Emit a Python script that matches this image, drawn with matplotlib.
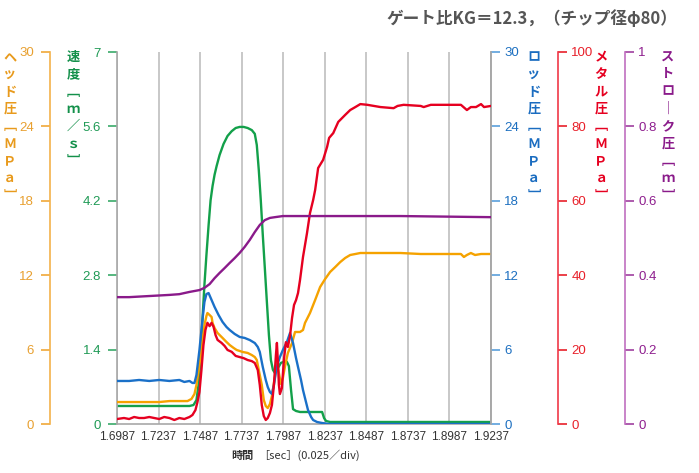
import matplotlib
matplotlib.use('Agg')
import matplotlib.pyplot as plt

# ---- data ----
x_labels = ['1.6987', '1.7237', '1.7487', '1.7737', '1.7987',
            '1.8237', '1.8487', '1.8737', '1.8987', '1.9237']

# rod pressure [MPa]
t_rod = [1.6987, 1.7060, 1.7120, 1.7181, 1.7241, 1.7302, 1.7362, 1.7392, 1.7423, 1.7441,
         1.7453, 1.7465, 1.7483, 1.7501, 1.7513, 1.7525, 1.7538, 1.7556, 1.7574, 1.7598,
         1.7622, 1.7646, 1.7665, 1.7695, 1.7725, 1.7755, 1.7786, 1.7816, 1.7834, 1.7846,
         1.7864, 1.7882, 1.7894, 1.7907, 1.7919, 1.7931, 1.7943, 1.7955, 1.7967, 1.7985,
         1.8009, 1.8028, 1.8046, 1.8064, 1.8076, 1.8094, 1.8106, 1.8124, 1.8136, 1.8155,
         1.8167, 1.8191, 1.8221, 1.8260, 1.9237]
rod = [3.47, 3.47, 3.55, 3.47, 3.55, 3.47, 3.55, 3.39, 3.47, 3.31,
       3.31, 3.95, 5.97, 8.39, 9.84, 10.48, 10.56, 10.0, 9.44, 8.79,
       8.23, 7.82, 7.58, 7.26, 7.02, 6.94, 6.77, 6.53, 6.21, 5.81,
       4.60, 3.55, 2.98, 2.58, 2.42, 3.15, 4.19, 4.92, 5.40, 5.97,
       6.61, 7.34, 6.53, 5.32, 4.60, 3.55, 2.74, 1.77, 1.13, 0.56,
       0.32, 0.16, 0.08, 0.0, 0.0]

# head pressure [MPa]
t_head = [1.6987, 1.7120, 1.7241, 1.7302, 1.7362, 1.7411, 1.7435, 1.7453, 1.7465, 1.7483,
          1.7501, 1.7513, 1.7525, 1.7531, 1.7544, 1.7556, 1.7562, 1.7574, 1.7592, 1.7622,
          1.7646, 1.7665, 1.7689, 1.7707, 1.7743, 1.7773, 1.7798, 1.7816, 1.7828, 1.7840,
          1.7858, 1.7870, 1.7882, 1.7894, 1.7907, 1.7919, 1.7931, 1.7943, 1.7949, 1.7961,
          1.7973, 1.7985, 1.7997, 1.8015, 1.8040, 1.8058, 1.8088, 1.8106, 1.8118, 1.8148,
          1.8179, 1.8209, 1.8239, 1.8269, 1.8300, 1.8330, 1.8360, 1.8390, 1.8421, 1.8451,
          1.8572, 1.8693, 1.8814, 1.8935, 1.9056, 1.9074, 1.9092, 1.9116, 1.9141, 1.9177,
          1.9237]
head = [1.77, 1.77, 1.77, 1.85, 1.85, 1.85, 2.02, 2.42, 3.15, 4.76,
        6.77, 7.98, 8.71, 8.95, 8.79, 8.63, 8.15, 7.74, 7.34, 6.94,
        6.61, 6.37, 6.13, 5.97, 5.81, 5.73, 5.56, 5.40, 5.16, 4.35,
        3.15, 1.94, 1.45, 1.29, 1.61, 2.26, 3.31, 4.35, 5.00, 4.11,
        3.23, 3.71, 4.60, 5.73, 6.53, 7.42, 7.42, 7.58, 8.15, 8.95,
        10.0, 11.05, 11.69, 12.26, 12.66, 13.06, 13.39, 13.63, 13.71, 13.79,
        13.79, 13.79, 13.71, 13.71, 13.71, 13.47, 13.63, 13.79, 13.63, 13.71,
        13.71]

# injection speed [m/s]
t_speed = [1.6987, 1.7423, 1.7447, 1.7465, 1.7477, 1.7489, 1.7501, 1.7513, 1.7525, 1.7538,
           1.7550, 1.7562, 1.7574, 1.7586, 1.7604, 1.7628, 1.7652, 1.7677, 1.7701, 1.7725,
           1.7749, 1.7773, 1.7798, 1.7816, 1.7828, 1.7840, 1.7852, 1.7864, 1.7876, 1.7888,
           1.7901, 1.7913, 1.7925, 1.7937, 1.7955, 1.7973, 1.7991, 1.8009, 1.8021, 1.8034,
           1.8046, 1.8064, 1.8088, 1.8148, 1.8221, 1.8233, 1.8245, 1.8269, 1.9237]
speed = [0.339, 0.339, 0.357, 0.45, 0.73, 1.20, 1.96, 2.62, 3.18, 3.74,
         4.21, 4.48, 4.69, 4.85, 5.06, 5.27, 5.42, 5.51, 5.57, 5.59,
         5.59, 5.57, 5.53, 5.46, 5.25, 4.78, 4.21, 3.56, 2.95, 2.33,
         1.67, 1.20, 1.02, 0.96, 1.05, 1.15, 1.17, 1.17, 1.09, 0.64,
         0.28, 0.245, 0.226, 0.226, 0.226, 0.11, 0.056, 0.038, 0.038]

# metal pressure [MPa]
t_metal = [1.6987, 1.7029, 1.7060, 1.7090, 1.7120, 1.7150, 1.7181, 1.7211, 1.7241, 1.7271,
           1.7302, 1.7332, 1.7362, 1.7392, 1.7423, 1.7441, 1.7459, 1.7471, 1.7483, 1.7495,
           1.7507, 1.7519, 1.7531, 1.7544, 1.7556, 1.7568, 1.7580, 1.7592, 1.7616, 1.7634,
           1.7652, 1.7677, 1.7701, 1.7725, 1.7749, 1.7773, 1.7798, 1.7816, 1.7834, 1.7846,
           1.7858, 1.7870, 1.7882, 1.7894, 1.7907, 1.7919, 1.7931, 1.7943, 1.7949, 1.7955,
           1.7961, 1.7967, 1.7979, 1.7991, 1.8003, 1.8015, 1.8028, 1.8040, 1.8052, 1.8064,
           1.8076, 1.8088, 1.8106, 1.8130, 1.8148, 1.8167, 1.8179, 1.8197, 1.8227, 1.8251,
           1.8263, 1.8288, 1.8318, 1.8360, 1.8390, 1.8421, 1.8451, 1.8493, 1.8572, 1.8651,
           1.8675, 1.8711, 1.8814, 1.8832, 1.8875, 1.9056, 1.9092, 1.9116, 1.9147, 1.9177,
           1.9195, 1.9237]
metal = [1.34, 1.61, 1.34, 1.88, 1.61, 1.61, 1.88, 1.61, 1.34, 1.88,
         1.61, 1.08, 1.61, 1.34, 1.88, 2.42, 3.76, 5.91, 8.60, 14.5,
         21.2, 25.3, 27.2, 26.3, 27.2, 26.1, 23.9, 22.6, 21.8, 21.0,
         19.9, 19.4, 18.3, 18.0, 17.7, 17.2, 16.9, 16.4, 14.5, 10.5,
         5.1, 2.15, 1.08, 1.61, 2.96, 5.1, 10.5, 18.5, 21.8, 16.7,
         10.5, 8.06, 9.68, 17.2, 22.0, 20.7, 23.7, 28.5, 32.0, 33.3,
         35.2, 38.7, 44.9, 51.3, 56.7, 60.2, 62.9, 68.8, 71.0, 74.5,
         76.9, 78.2, 81.2, 83.1, 84.4, 85.2, 86.0, 85.8, 85.2, 84.9,
         85.5, 85.8, 85.5, 85.2, 85.8, 85.8, 84.4, 85.2, 85.2, 86.0,
         85.2, 85.5]

# stroke [m]
t_stroke = [1.6987, 1.7060, 1.7181, 1.7302, 1.7362, 1.7423, 1.7483, 1.7513, 1.7544, 1.7574,
            1.7604, 1.7634, 1.7665, 1.7695, 1.7725, 1.7755, 1.7786, 1.7816, 1.7846, 1.7876,
            1.7907, 1.7937, 1.7985, 1.8088, 1.8693, 1.9237]
stroke = [0.341, 0.341, 0.344, 0.347, 0.349, 0.355, 0.360, 0.366, 0.376, 0.392,
          0.406, 0.419, 0.433, 0.446, 0.460, 0.476, 0.495, 0.516, 0.535, 0.548,
          0.554, 0.556, 0.559, 0.559, 0.559, 0.556]

head_ticks = [0, 6, 12, 18, 24, 30]
speed_ticks = [0, 1.4, 2.8, 4.2, 5.6, 7]
rod_ticks = [0, 6, 12, 18, 24, 30]
metal_ticks = [0, 20, 40, 60, 80, 100]
stroke_ticks = [0, 0.2, 0.4, 0.6, 0.8, 1]

title = 'ゲート比KG＝12.3，（チップ径φ80）'

# ---- styling ----
JP = ['Noto Sans CJK JP', 'DejaVu Sans']
NUM = ['Liberation Sans Narrow', 'Liberation Sans', 'DejaVu Sans']
plt.rcParams['font.family'] = NUM

C_HEAD, C_SPEED, C_ROD, C_METAL, C_STROKE = '#f5a200', '#13a04a', '#1a70c8', '#e60020', '#8a1a8a'
W, H = 699, 473

fig = plt.figure(figsize=(W / 100, H / 100), dpi=100)
ax = fig.add_axes([117 / W, (H - 424) / H, 374 / W, 372 / H])

ax.set_xlim(float(x_labels[0]), float(x_labels[-1]))
ax.set_xticks([float(s) for s in x_labels])
ax.set_xticklabels(x_labels)
ax.tick_params(axis='x', length=0, pad=5, labelsize=8.5, labelcolor='#333333')
ax.grid(axis='x', color='#c8c8c8', lw=1.4)
for s in ('left', 'right', 'bottom'):
    ax.spines[s].set_color('#a8a8a8')
    ax.spines[s].set_linewidth(1.2)
ax.spines['top'].set_visible(False)


def style_axis(a, side, pos, ticks, lo, hi, spine_c, tick_c, lab_c):
    a.set_ylim(lo, hi)
    a.set_yticks(ticks)
    a.set_yticklabels(['%g' % v for v in ticks])
    for s in a.spines:
        a.spines[s].set_visible(s == side)
    if pos is not None:
        a.spines[side].set_position(('axes', pos))
    a.spines[side].set_color(spine_c)
    a.spines[side].set_linewidth(1.2)
    a.yaxis.set_ticks_position(side)
    a.tick_params(axis='y', length=6.5, width=1.2, color=tick_c, labelcolor=lab_c,
                  labelsize=9.5, pad=5 if side == 'left' else 3)
    a.tick_params(axis='x', length=0)


# speed uses the main axes (left, grey spine)
ax.set_ylim(0, 7)
ax.set_yticks(speed_ticks)
ax.set_yticklabels(['%g' % v for v in speed_ticks])
ax.tick_params(axis='y', length=6.5, width=1.2, color='#3aaa6a', labelcolor='#1f9a55',
               labelsize=9.5, pad=5)

ax_head = ax.twinx()
style_axis(ax_head, 'left', -67 / 374, head_ticks, 0, 30, '#f4b24a', '#f0a838', '#e8a030')
ax_rod = ax.twinx()
style_axis(ax_rod, 'right', None, rod_ticks, 0, 30, '#a8a8a8', '#5aa0dc', '#1c6fc0')
ax_metal = ax.twinx()
style_axis(ax_metal, 'right', 441 / 374, metal_ticks, 0, 100, '#f03848', '#e8202a', '#e8202a')
ax_stroke = ax.twinx()
style_axis(ax_stroke, 'right', 508 / 374, stroke_ticks, 0, 1, '#c070c0', '#a040a0', '#8e1e8e')

lw = 1.7
ax.plot(t_speed, speed, color=C_SPEED, lw=lw)
ax_rod.plot(t_rod, rod, color=C_ROD, lw=lw)
ax_head.plot(t_head, head, color=C_HEAD, lw=lw)
ax_metal.plot(t_metal, metal, color=C_METAL, lw=lw)
ax_stroke.plot(t_stroke, stroke, color=C_STROKE, lw=lw)


# vertical axis titles, one character per line
def vlabel(x, chars, color):
    fig.text(x / W, 1 - 50 / H, '\n'.join(chars), ha='center', va='top',
             fontsize=9.5, weight='bold', color=color, family=JP, linespacing=1.3)


vlabel(10, ['ヘ', 'ッ', 'ド', '圧', '﹇', 'Ｍ', 'Ｐ', 'ａ', '﹈'], '#e89a1c')
vlabel(73, ['速', '度', '﹇', 'ｍ', '／', 'ｓ', '﹈'], '#13904a')
vlabel(534, ['ロ', 'ッ', 'ド', '圧', '﹇', 'Ｍ', 'Ｐ', 'ａ', '﹈'], '#1a6cc0')
vlabel(601, ['メ', 'タ', 'ル', '圧', '﹇', 'Ｍ', 'Ｐ', 'ａ', '﹈'], '#e60020')
vlabel(668, ['ス', 'ト', 'ロ', '｜', 'ク', '圧', '﹇', 'ｍ', '﹈'], '#8a1a8a')

fig.text(677 / W, 1 - 19 / H, title, ha='right', va='center', fontsize=12,
         weight='bold', color='#555555', family=JP)
fig.text(253 / W, 1 - 455 / H, '時間', ha='right', va='center', fontsize=8,
         weight='bold', color='#333333', family=JP)
fig.text(258 / W, 1 - 455 / H, '［sec］(0.025／div)', ha='left', va='center', fontsize=8,
         color='#333333', family=JP)

fig.savefig('out.png', dpi=100)
